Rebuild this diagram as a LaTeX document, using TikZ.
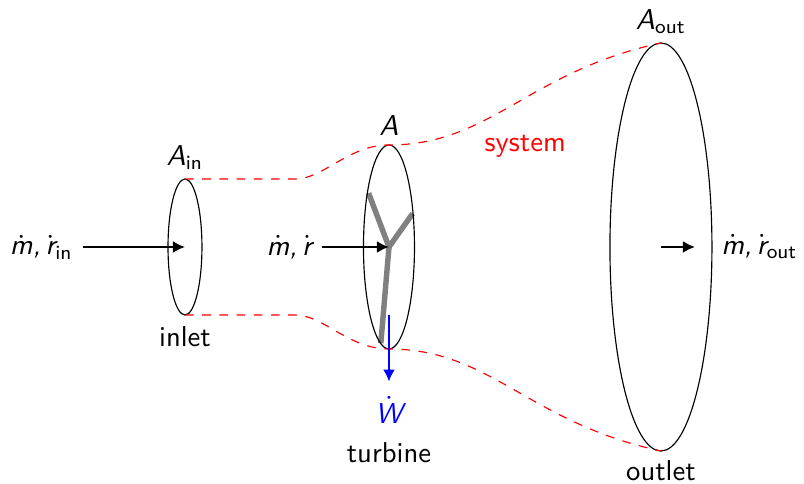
\documentclass[tikz,border=0pt]{standalone}
\usepackage{amsmath,amssymb}
\usepackage{tikz}
\usepackage{xcolor}
\usetikzlibrary{arrows.meta}
\renewcommand{\familydefault}{\sfdefault}
\newcommand{\sv}[1]{\mbox{\itshape #1}}
\tikzset{
 flow/.style={thick,-{Latex[length=4.2pt,width=4.2pt]}},
 boundary/.style={red,dashed,thin},
 blade/.style={black!50,line width=1.9pt},
}

\begin{document}
\begin{tikzpicture}
 \useasboundingbox (-2.267,-2.904) rectangle (7.586,3.027);
 \coordinate (inlet) at (0,0);
 \coordinate (rotor) at (2.5,0);
 \coordinate (outlet) at (5.833,0);
 \coordinate (inT) at (0,.833); \coordinate (inB) at (0,-.833);
 \coordinate (rotT) at (2.5,1.25); \coordinate (rotB) at (2.5,-1.25);
 \coordinate (outT) at (5.833,2.5); \coordinate (outB) at (5.833,-2.5);
 \coordinate (bend1) at (1.35,.833); \coordinate (bend2) at (1.35,-.833);
 % turbine blades
 \coordinate (tip1) at (2.25,.66); \coordinate (tip2) at (2.79,.41); \coordinate (tip3) at (2.4,-1.18);
 \foreach \t in {tip1,tip2,tip3} \draw[blade] (rotor) -- (\t);
 \draw (inlet) ellipse (.208 and .833);
 \draw (rotor) ellipse (.3125 and 1.25);
 \draw (outlet) ellipse (.625 and 2.5);
 % control surface
 \draw[boundary] (inT) -- (bend1) .. controls (1.7,.833) and (2,1.25) .. (rotT)
  .. controls (3.75,1.25) and (4.2,2.15) .. (outT);
 \draw[boundary] (inB) -- (bend2) .. controls (1.7,-.833) and (2,-1.25) .. (rotB)
  .. controls (3.75,-1.25) and (4.2,-2.15) .. (outB);
 % labels
 \node (Ain) at (0,1.1) {$\sv{A}_{\text{in}}$};
 \node (Arot) at (2.5,1.49) {$\sv{A}$};
 \node (Aout) at (5.833,2.76) {$\sv{A}_{\text{out}}$};
 \node (inname) at (0,-1.1) {inlet};
 \node (outname) at (5.833,-2.74) {outlet};
 \node (rotname) at (2.5,-2.52) {turbine};
 \node[red] (sysname) at (4.17,1.24) {system};
 \node[blue] (power) at (2.5,-2.0) {$\dot{\sv{W}}$};
 \node[left] (flowin) at (-1.25,0) {$\dot{\sv{m}}$\textit{,}\,$\dot{\sv{r}}_{\text{in}}$};
 \node[left] (flowrot) at (1.68,0) {$\dot{\sv{m}}$\textit{,}\,$\dot{\sv{r}}$};
 \node[right] (flowout) at (6.45,0) {$\dot{\sv{m}}$\textit{,}\,$\dot{\sv{r}}_{\text{out}}$};
 \coordinate (outtip) at (6.25,0);
 \coordinate (wstart) at (2.5,-.83); \coordinate (wtip) at (2.5,-1.65);
 \draw[flow] (flowin) -- (inlet);
 \draw[flow] (flowrot) -- (rotor);
 \draw[flow] (outlet) -- (outtip);
 \draw[flow,blue] (wstart) -- (wtip);
\end{tikzpicture}
\end{document}
